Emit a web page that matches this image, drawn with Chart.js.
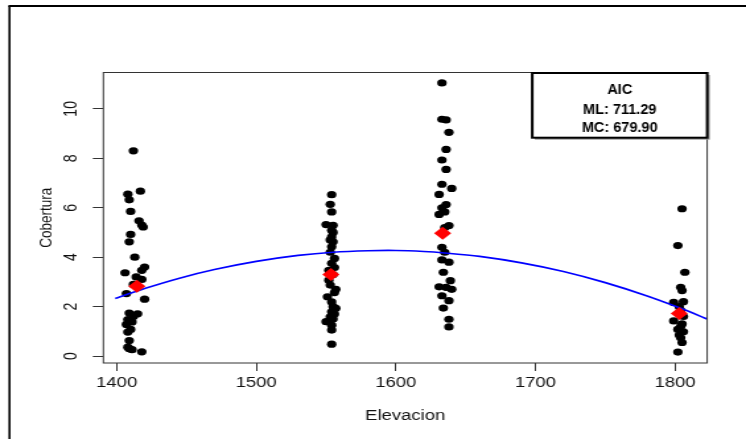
<!DOCTYPE html>
<html>
<head>
<meta charset="utf-8">
<title>Cobertura vs Elevacion</title>
<script src="https://cdn.jsdelivr.net/npm/chart.js@4.4.1/dist/chart.umd.min.js"></script>
<style>
  html, body { margin: 0; padding: 0; background: #fff; overflow: hidden; }
  /* the plot is laid out on a narrower canvas and widened, like the exported R device */
  #wrap { width: 565px; height: 439px; transform: scaleX(1.32035); transform-origin: 0 0; }
  canvas { display: block; }
</style>
</head>
<body>
<div id="wrap"><canvas id="plot" width="565" height="439"></canvas></div>
<script>
const xTicks = [1400, 1500, 1600, 1700, 1800];
const yTicks = [0, 2, 4, 6, 8, 10];

// observations per site: [elevacion, cobertura]
const site1400 = [
    [1412, 8.30], [1417, 6.67], [1408, 6.55], [1409, 6.32], [1410, 5.85], [1416, 5.47],
    [1418, 5.30], [1419, 5.22], [1410, 4.92], [1409, 4.62], [1413, 4.00], [1420, 3.60],
    [1418, 3.47], [1406, 3.37], [1414, 3.20], [1418, 3.10], [1412, 2.90], [1407, 2.53],
    [1420, 2.30], [1409, 1.74], [1415, 1.71], [1412, 1.60], [1408, 1.48], [1411, 1.38],
    [1407, 1.28], [1410, 1.08], [1408, 0.97], [1409, 0.63], [1408, 0.36], [1411, 0.26],
    [1418, 0.17], [1409, 0.30]
];
const site1555 = [
    [1554, 6.53], [1553, 6.14], [1554, 5.83], [1550, 5.32], [1555, 5.29], [1554, 5.09],
    [1555, 5.00], [1554, 4.82], [1553, 4.70], [1555, 4.62], [1554, 4.42], [1553, 4.20],
    [1556, 3.95], [1554, 3.75], [1556, 3.58], [1552, 3.47], [1555, 3.30], [1552, 3.07],
    [1553, 2.87], [1557, 2.70], [1556, 2.57], [1551, 2.40], [1554, 2.19], [1555, 2.00],
    [1557, 1.93], [1554, 1.79], [1556, 1.70], [1553, 1.59], [1555, 1.50], [1550, 1.39],
    [1554, 1.25], [1554, 1.05], [1554, 0.48]
];
const site1635 = [
    [1633, 11.05], [1633, 9.58], [1636, 9.55], [1638, 9.05], [1636, 8.36], [1633, 7.93],
    [1636, 7.55], [1633, 6.95], [1640, 6.78], [1631, 6.54], [1636, 6.13], [1633, 6.00],
    [1635, 5.83], [1631, 5.73], [1638, 5.28], [1635, 5.20], [1633, 4.40], [1635, 4.20],
    [1633, 3.89], [1638, 3.80], [1634, 3.39], [1639, 3.05], [1631, 2.80], [1636, 2.78],
    [1640, 2.70], [1633, 2.44], [1638, 2.24], [1634, 1.94], [1638, 1.49], [1638, 1.18]
];
const site1805 = [
    [1805, 5.96], [1802, 4.47], [1807, 3.39], [1804, 2.78], [1805, 2.65], [1799, 2.17],
    [1806, 2.20], [1803, 2.00], [1804, 1.85], [1806, 1.60], [1799, 1.42], [1805, 1.30],
    [1804, 1.20], [1802, 1.08], [1806, 0.98], [1803, 0.85], [1804, 0.74], [1805, 0.55],
    [1802, 0.16]
];

// mean cobertura per site
const siteMeans = [[1414.5, 2.82], [1553.5, 3.30], [1633.5, 4.97], [1803, 1.72]];

// fitted quadratic (ML) read along the elevation range
const curveElev = [1399, 1420, 1445, 1470, 1500, 1530, 1555, 1580, 1600, 1620, 1635, 1660, 1690, 1720, 1750, 1780, 1805, 1825];
const curveCob = [2.33, 2.73, 3.15, 3.50, 3.83, 4.07, 4.20, 4.26, 4.27, 4.23, 4.17, 4.03, 3.77, 3.42, 2.97, 2.43, 1.91, 1.45];

const aicLines = ['AIC', 'ML: 711.29', 'MC: 679.90'];

const STRETCH = 746 / 565;
const FONT = '"Liberation Sans", Arial, Helvetica, sans-serif';
const INK = '#111';

const toXY = arr => arr.map(([x, y]) => ({ x, y }));

const rPlotPlugin = {
    id: 'rPlot',
    afterDraw(chart) {
        const { ctx, chartArea: a, scales: { y } } = chart;
        ctx.save();

        // plot box
        ctx.strokeStyle = '#333';
        ctx.lineWidth = 1;
        ctx.strokeRect(a.left, a.top, a.right - a.left, a.bottom - a.top);

        // y tick labels, parallel to the axis
        ctx.fillStyle = INK;
        ctx.font = `14px ${FONT}`;
        ctx.textAlign = 'center';
        ctx.textBaseline = 'middle';
        yTicks.forEach(v => {
            ctx.save();
            ctx.translate(a.left - 24.5, y.getPixelForValue(v));
            ctx.rotate(-Math.PI / 2);
            ctx.fillText(String(v), 0, 0);
            ctx.restore();
        });

        // outer frame (left + top)
        ctx.strokeStyle = '#000';
        ctx.lineWidth = 1.6;
        ctx.beginPath();
        ctx.moveTo(7.2, 439);
        ctx.lineTo(7.2, 6);
        ctx.stroke();
        ctx.lineWidth = 2;
        ctx.beginPath();
        ctx.moveTo(6.4, 6);
        ctx.lineTo(565, 6);
        ctx.stroke();

        // AIC box in the top right corner
        const bx = 403.1, by = a.top + 0.5, bw = a.right - bx, bh = 137.7 - by;
        ctx.fillStyle = '#999';
        ctx.fillRect(bx + 2, by + 2, bw, bh);
        ctx.fillStyle = '#fff';
        ctx.fillRect(bx, by, bw, bh);
        ctx.strokeStyle = '#000';
        ctx.lineWidth = 2;
        ctx.strokeRect(bx, by, bw, bh);

        ctx.fillStyle = '#000';
        ctx.font = `bold 14.5px ${FONT}`;
        const rows = [90, 110, 128];
        aicLines.forEach((t, i) => {
            ctx.save();
            ctx.translate(bx + bw / 2, rows[i]);
            ctx.scale(1 / STRETCH, 1);
            ctx.fillText(t, 0, 0);
            ctx.restore();
        });

        ctx.restore();
    }
};

const tickGrid = {
    display: true,
    drawOnChartArea: false,
    drawTicks: true,
    tickLength: 8,
    color: '#333',
    lineWidth: 1
};

new Chart(document.getElementById('plot'), {
    type: 'scatter',
    data: {
        datasets: [
            {
                label: 'Media',
                data: toXY(siteMeans),
                pointStyle: 'rectRot',
                pointRadius: 6.5,
                backgroundColor: '#ff0000',
                borderWidth: 0,
                order: 0
            },
            {
                label: 'Ajuste',
                data: curveElev.map((x, i) => ({ x, y: curveCob[i] })),
                showLine: true,
                borderColor: '#0000ff',
                borderWidth: 1.7,
                pointRadius: 0,
                tension: 0.3,
                fill: false,
                order: 1
            },
            {
                label: 'Cobertura',
                data: toXY([...site1400, ...site1555, ...site1635, ...site1805]),
                pointRadius: 3.6,
                backgroundColor: '#000',
                borderWidth: 0,
                order: 2
            }
        ]
    },
    options: {
        responsive: false,
        animation: false,
        events: [],
        layout: { padding: { left: 0, top: 72.5, right: 29.4, bottom: 0 } },
        plugins: { legend: { display: false }, tooltip: { enabled: false } },
        scales: {
            x: {
                type: 'linear',
                min: 1390.5,
                max: 1823,
                afterBuildTicks: s => { s.ticks = xTicks.map(v => ({ value: v })); },
                afterFit: s => { s.height = 76; },
                grid: tickGrid,
                border: { display: false },
                ticks: {
                    color: INK,
                    font: { family: FONT, size: 14 },
                    padding: 3.6,
                    maxRotation: 0,
                    autoSkip: false,
                    callback: v => String(v)
                },
                title: {
                    display: true,
                    text: 'Elevacion',
                    color: INK,
                    font: { family: FONT, size: 14 },
                    padding: { top: 0, bottom: 14.6 }
                }
            },
            y: {
                type: 'linear',
                min: -0.28,
                max: 11.47,
                afterBuildTicks: s => { s.ticks = yTicks.map(v => ({ value: v })); },
                afterFit: s => { s.width = 78.3; },
                grid: tickGrid,
                border: { display: false },
                ticks: { display: false },
                title: {
                    display: true,
                    text: 'Cobertura',
                    color: INK,
                    font: { family: FONT, size: 13.5 },
                    padding: { top: 27.2, bottom: 0 }
                }
            }
        }
    },
    plugins: [rPlotPlugin]
});
</script>
</body>
</html>
